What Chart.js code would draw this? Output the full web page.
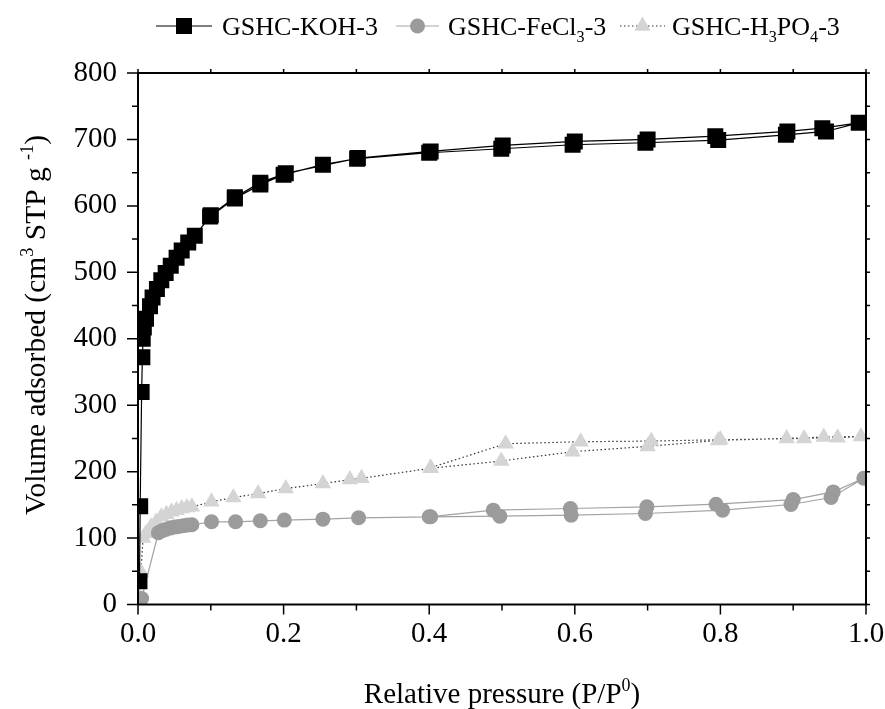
<!DOCTYPE html>
<html>
<head>
<meta charset="utf-8">
<script src="https://cdn.jsdelivr.net/npm/chart.js@4.4.0/dist/chart.umd.min.js"></script>
<style>
  html, body { margin: 0; padding: 0; background: #fff; }
</style>
</head>
<body>
<canvas id="isoChart" width="885" height="709"></canvas>
<script>
const FONT = "'Liberation Serif', 'Times New Roman', serif";

// N2 isotherms: relative pressure P/P0 vs volume adsorbed (cm3 STP g-1)
// each series runs along the adsorption branch, then back along desorption
const kohX = [0.002, 0.003, 0.005, 0.006, 0.0065, 0.008, 0.011, 0.0165, 0.020, 0.026, 0.032, 0.038, 0.045, 0.053, 0.060, 0.069, 0.078, 0.099, 0.133, 0.168, 0.200, 0.254, 0.301, 0.400, 0.499, 0.597, 0.697, 0.797, 0.890, 0.945, 0.990, 0.940, 0.892, 0.793, 0.700, 0.600, 0.501, 0.402, 0.302, 0.203, 0.168, 0.133, 0.100];
const kohY = [35, 148, 320, 372, 400, 417, 430, 449, 462, 475, 488, 499, 510, 522, 533, 545, 555, 584, 611, 632, 647, 662, 671, 680, 686, 692, 695, 699, 707, 712, 725, 717, 712, 705, 700, 697, 691, 682, 672, 649, 635, 613, 586];

const fecl3X = [0.001, 0.005, 0.028, 0.033, 0.038, 0.044, 0.050, 0.056, 0.062, 0.068, 0.074, 0.101, 0.134, 0.168, 0.201, 0.254, 0.303, 0.402, 0.497, 0.595, 0.697, 0.803, 0.897, 0.952, 0.997, 0.955, 0.900, 0.794, 0.699, 0.594, 0.488, 0.400];
const fecl3Y = [3, 9, 108, 111, 113, 115, 116.5, 117.5, 118.5, 119.5, 120, 124.5, 124.5, 126, 127, 128.5, 130.5, 132, 133, 134.5, 137, 142, 150.5, 161, 190, 169.5, 158, 151, 147, 144.5, 142, 132];

const h3po4X = [0.002, 0.004, 0.007, 0.011, 0.018, 0.025, 0.032, 0.039, 0.046, 0.053, 0.060, 0.067, 0.074, 0.101, 0.131, 0.165, 0.203, 0.254, 0.291, 0.307, 0.402, 0.499, 0.597, 0.700, 0.797, 0.891, 0.942, 0.993, 0.961, 0.915, 0.800, 0.705, 0.608, 0.505, 0.402];
const h3po4Y = [12, 49, 100, 107, 117, 124.5, 132, 136, 139.5, 142, 144.5, 146, 147, 154.5, 161, 167, 174.5, 182, 188, 190, 205, 216, 230, 238, 247, 250, 252, 253, 251, 250, 248, 246, 245, 242, 206];

const xTickLabels = ['0.0', '0.2', '0.4', '0.6', '0.8', '1.0'];
const yTickLabels = ['0', '100', '200', '300', '400', '500', '600', '700', '800'];

// legend names with subscripts
const seriesNames = [
    [{ t: 'GSHC-KOH-3' }],
    [{ t: 'GSHC-FeCl' }, { t: '3', sub: true }, { t: '-3' }],
    [{ t: 'GSHC-H' }, { t: '3', sub: true }, { t: 'PO' }, { t: '4', sub: true }, { t: '-3' }]
];
const xTitle = [{ t: 'Relative pressure (P/P' }, { t: '0', sup: true }, { t: ')' }];
const yTitle = [{ t: 'Volume adsorbed (cm' }, { t: '3', sup: true }, { t: ' STP g ' }, { t: '-1', sup: true }, { t: ')' }];

const toPoints = (xs, ys) => xs.map((x, i) => ({ x: x, y: ys[i] }));

// draw text with sub/superscripts, starting at x on baseline y
function drawRich(ctx, parts, x, y, size, measureOnly) {
    let cx = x;
    parts.forEach(p => {
        const small = p.sub || p.sup;
        ctx.font = (small ? size * 0.62 : size) + 'px ' + FONT;
        const dy = p.sub ? size * 0.28 : (p.sup ? -size * 0.4 : 0);
        if (!measureOnly) ctx.fillText(p.t, cx, y + dy);
        cx += ctx.measureText(p.t).width;
    });
    return cx - x;
}

function drawMarker(ctx, style, x, y, color) {
    ctx.fillStyle = color;
    ctx.beginPath();
    if (style === 'rect') {
        ctx.rect(x - 8, y - 8, 16, 16);
    } else if (style === 'circle') {
        ctx.arc(x, y, 7.5, 0, Math.PI * 2);
    } else {
        ctx.moveTo(x, y - 9.5);
        ctx.lineTo(x + 8.2, y + 4.75);
        ctx.lineTo(x - 8.2, y + 4.75);
        ctx.closePath();
    }
    ctx.fill();
}

const legendItems = [
    { line: [156, 212], text: 222, style: 'rect', color: '#000', stroke: '#000', dash: [] },
    { line: [396, 439], text: 448, style: 'circle', color: '#9b9b9b', stroke: '#a3a3a3', dash: [] },
    { line: [620, 665], text: 672, style: 'triangle', color: '#d4d4d4', stroke: '#333', dash: [1.5, 2.5] }
];

const decor = {
    id: 'decor',
    afterDraw(chart) {
        const { ctx, chartArea: a } = chart;
        const xs = chart.scales.x, ys = chart.scales.y;
        ctx.save();

        // frame and tick marks
        ctx.strokeStyle = '#000';
        ctx.lineWidth = 2;
        ctx.strokeRect(a.left, a.top, a.right - a.left, a.bottom - a.top);
        ctx.lineWidth = 1.5;
        ctx.beginPath();
        for (let i = 0; i <= 10; i++) {
            const px = xs.getPixelForValue(i / 10);
            const len = i % 2 === 0 ? 10 : 6;
            ctx.moveTo(px, a.bottom); ctx.lineTo(px, a.bottom + len);
            ctx.moveTo(px, a.top); ctx.lineTo(px, a.top - 4);
        }
        for (let v = 0; v <= 800; v += 50) {
            const py = ys.getPixelForValue(v);
            const len = v % 100 === 0 ? 11 : 6;
            ctx.moveTo(a.left, py); ctx.lineTo(a.left - len, py);
            ctx.moveTo(a.right, py); ctx.lineTo(a.right + 4, py);
        }
        ctx.stroke();

        // axis titles
        ctx.fillStyle = '#000';
        ctx.textBaseline = 'alphabetic';
        ctx.textAlign = 'left';
        const tw = drawRich(ctx, xTitle, 0, 0, 29, true);
        drawRich(ctx, xTitle, (a.left + a.right) / 2 - tw / 2, 703, 29);

        ctx.save();
        ctx.translate(45, 325);
        ctx.rotate(-Math.PI / 2);
        const yw = drawRich(ctx, yTitle, 0, 0, 29.5, true);
        drawRich(ctx, yTitle, -yw / 2, 0, 29.5);
        ctx.restore();

        // legend
        const ly = 26;
        legendItems.forEach((it, i) => {
            ctx.strokeStyle = it.stroke;
            ctx.lineWidth = 1.2;
            ctx.setLineDash(it.dash);
            ctx.beginPath();
            ctx.moveTo(it.line[0], ly);
            ctx.lineTo(it.line[1], ly);
            ctx.stroke();
            ctx.setLineDash([]);
            drawMarker(ctx, it.style, (it.line[0] + it.line[1]) / 2, ly, it.color);
            ctx.fillStyle = '#000';
            drawRich(ctx, seriesNames[i], it.text, ly + 9, 26);
        });
        ctx.restore();
    }
};

const tickFont = { family: FONT, size: 29 };

new Chart(document.getElementById('isoChart'), {
    type: 'scatter',
    data: {
        datasets: [
            {
                label: 'GSHC-KOH-3',
                data: toPoints(kohX, kohY),
                showLine: true,
                borderColor: '#000',
                borderWidth: 1.2,
                pointStyle: 'rect',
                pointRadius: 11.3,
                pointBackgroundColor: '#000',
                pointBorderWidth: 0
            },
            {
                label: 'GSHC-FeCl3-3',
                data: toPoints(fecl3X, fecl3Y),
                showLine: true,
                borderColor: '#a3a3a3',
                borderWidth: 1.2,
                pointStyle: 'circle',
                pointRadius: 7.5,
                pointBackgroundColor: '#9b9b9b',
                pointBorderWidth: 0
            },
            {
                label: 'GSHC-H3PO4-3',
                data: toPoints(h3po4X, h3po4Y),
                showLine: true,
                borderColor: '#333',
                borderWidth: 1.2,
                borderDash: [1.5, 2.5],
                pointStyle: 'triangle',
                pointRadius: 9.5,
                pointBackgroundColor: '#d4d4d4',
                pointBorderWidth: 0
            }
        ]
    },
    options: {
        responsive: false,
        animation: false,
        events: [],
        devicePixelRatio: 1,
        layout: { padding: { top: 73, right: 19, left: 0, bottom: 0 } },
        plugins: {
            legend: { display: false },
            tooltip: { enabled: false }
        },
        scales: {
            x: {
                type: 'linear',
                min: 0,
                max: 1,
                grid: { display: false, drawTicks: false },
                border: { display: false },
                ticks: {
                    stepSize: 0.2,
                    padding: 12,
                    color: '#000',
                    font: tickFont,
                    maxRotation: 0,
                    callback: (v, i) => xTickLabels[i] ?? v.toFixed(1)
                },
                afterFit: s => {
                    s.height = 104.5;
                    s.paddingLeft = 0;
                    s.paddingRight = 0;
                }
            },
            y: {
                type: 'linear',
                min: 0,
                max: 800,
                grid: { display: false, drawTicks: false },
                border: { display: false },
                ticks: {
                    stepSize: 100,
                    padding: 21,
                    color: '#000',
                    font: tickFont,
                    callback: (v, i) => yTickLabels[i] ?? String(v)
                },
                afterFit: s => { s.width = 138; }
            }
        }
    },
    plugins: [decor]
});
</script>
</body>
</html>
